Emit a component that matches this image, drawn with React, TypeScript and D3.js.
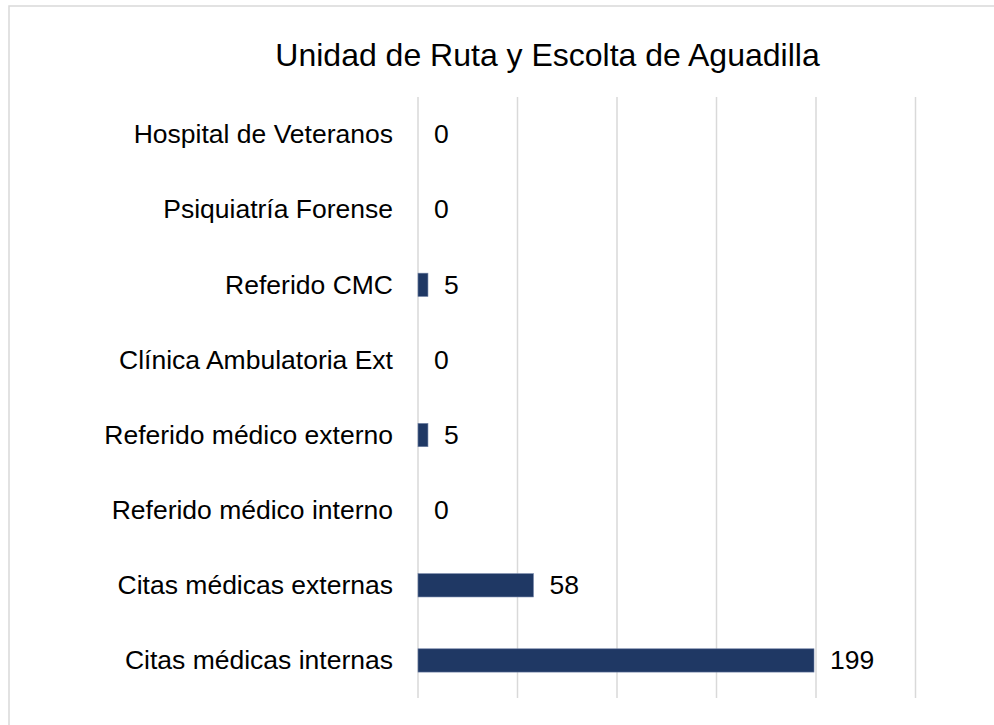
import React from 'react';
import * as d3 from 'd3';

const categories = [
  'Hospital de Veteranos',
  'Psiquiatría Forense',
  'Referido CMC',
  'Clínica Ambulatoria Ext',
  'Referido médico externo',
  'Referido médico interno',
  'Citas médicas externas',
  'Citas médicas internas',
];
const values = [0, 0, 5, 0, 5, 0, 58, 199];
const ticks = [0, 50, 100, 150, 200, 250];

const W = 994;
const H = 725;
const left = 418;
const right = 915.5;
const top = 97;
const bottom = 698;

export default function App() {
  const x = d3.scaleLinear().domain([0, 250]).range([left, right]);
  const y = d3.scaleBand<string>().domain(categories).range([top, bottom]).paddingInner(0.69).paddingOuter(0.345);
  const font = 'Liberation Sans, Arial, sans-serif';

  return (
    <svg width={W} height={H} style={{ position: 'absolute', left: 0, top: 0 }}>
      <rect x={0} y={0} width={W} height={H} fill="#fff" />
      <rect x={9} y={6} width={W} height={H} fill="none" stroke="#d9d9d9" strokeWidth={1.5} />
      <text x={547.5} y={66} textAnchor="middle" fontFamily={font} fontSize={32} fill="#000">
        Unidad de Ruta y Escolta de Aguadilla
      </text>
      {ticks.map((t) => (
        <line key={t} x1={x(t)} x2={x(t)} y1={top} y2={bottom} stroke="#d9d9d9" strokeWidth={1.5} />
      ))}
      {categories.map((c, i) => {
        const yc = (y(c) as number) + y.bandwidth() / 2;
        return (
          <g key={c}>
            <text x={393} y={yc} dy="0.33em" textAnchor="end" fontFamily={font} fontSize={26.5} fill="#000">
              {c}
            </text>
            {values[i] > 0 && (
              <rect
                x={x(0)}
                y={y(c)}
                width={x(values[i]) - x(0)}
                height={y.bandwidth()}
                fill="#1f3864"
                stroke="#6d7fa3"
                strokeWidth={0.6}
              />
            )}
            <text x={x(values[i]) + 16} y={yc} dy="0.33em" fontFamily={font} fontSize={26.5} fill="#000">
              {values[i]}
            </text>
          </g>
        );
      })}
    </svg>
  );
}
